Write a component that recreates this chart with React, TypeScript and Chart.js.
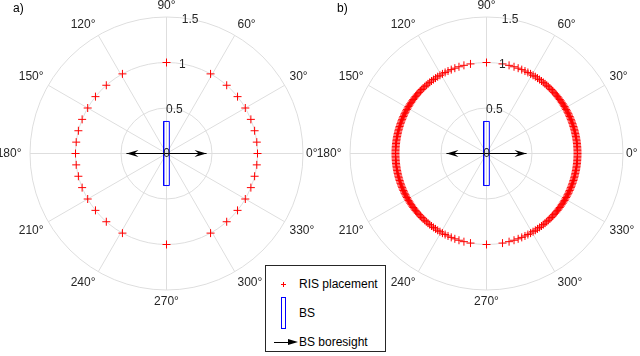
import React, { useEffect, useRef } from "react";
import { Chart, registerables } from "chart.js";

Chart.register(...registerables);

// ---- data ----
const PANEL_LABELS = ["a)", "b)"];
const RADIAL_TICKS = [0, 0.5, 1, 1.5];
const RADIAL_TICK_LABELS = ["0", "0.5", "1", "1.5"];
const R_MAX = 1.5;
const ANGLE_TICKS = [0, 30, 60, 90, 120, 150, 180, 210, 240, 270, 300, 330];
const ANGLE_TICK_LABELS = ["0°", "30°", "60°", "90°", "120°", "150°", "180°", "210°", "240°", "270°", "300°", "330°"];
const RADIAL_LABEL_ANGLE = 80;
const RIS_RADIUS = 1;
// RIS placement angles in one quadrant (degrees), mirrored into the other three
const RIS_QUADRANT_A = [0, 7.18, 14.48, 22.02, 30.0, 38.68, 48.59, 61.04, 90];
const RIS_QUADRANT_B = [
  0, 0.9, 1.79, 2.69, 3.58, 4.48, 5.38, 6.28, 7.18, 8.09, 8.99, 9.9, 10.81, 11.72, 12.64, 13.56,
  14.48, 15.41, 16.34, 17.27, 18.21, 19.16, 20.11, 21.06, 22.02, 22.99, 23.97, 24.95, 25.94, 26.94,
  27.95, 28.97, 30.0, 31.04, 32.09, 33.15, 34.23, 35.32, 36.42, 37.54, 38.68, 39.84, 41.01, 42.21,
  43.43, 44.68, 45.95, 47.26, 48.59, 49.96, 51.38, 52.83, 54.34, 55.91, 57.54, 59.24, 61.05, 62.95,
  64.99, 67.2, 69.64, 72.4, 75.64, 79.86, 90,
];
const BS_RECT_X = [-0.031, 0.031, 0.031, -0.031, -0.031];
const BS_RECT_Y = [-0.352, -0.352, 0.352, 0.352, -0.352];
const BORESIGHT_X = [-0.44, 0.44];
const BORESIGHT_Y = [0, 0];

const FONT = '12px "Liberation Sans", Arial, Helvetica, sans-serif';
const TEXT_COLOR = "#262626";
const GRID_COLOR = "#dedede";

function risPoints(quadrant: number[]) {
  const seen = new Set<string>();
  const pts: { x: number; y: number }[] = [];
  for (const q of quadrant) {
    for (const a of [q, -q, 180 - q, 180 + q]) {
      const n = ((a % 360) + 360) % 360;
      const key = n.toFixed(3);
      if (seen.has(key)) continue;
      seen.add(key);
      const rad = (n * Math.PI) / 180;
      pts.push({ x: RIS_RADIUS * Math.cos(rad), y: RIS_RADIUS * Math.sin(rad) });
    }
  }
  return pts;
}

function makePolarPlugin(panelLabel: string, panelLabelX: number) {
  return {
    id: "polarDecor",
    beforeDatasetsDraw(chart: any) {
      const { ctx, scales } = chart;
      const xs = scales.x;
      const ys = scales.y;
      const cx = xs.getPixelForValue(0);
      const cy = ys.getPixelForValue(0);
      const unit = xs.getPixelForValue(1) - cx;
      ctx.save();
      ctx.strokeStyle = GRID_COLOR;
      ctx.lineWidth = 1;
      for (const a of ANGLE_TICKS) {
        const rad = (a * Math.PI) / 180;
        ctx.beginPath();
        ctx.moveTo(cx, cy);
        ctx.lineTo(cx + R_MAX * unit * Math.cos(rad), cy - R_MAX * unit * Math.sin(rad));
        ctx.stroke();
      }
      for (const r of RADIAL_TICKS) {
        if (r <= 0) continue;
        ctx.beginPath();
        ctx.arc(cx, cy, r * unit, 0, Math.PI * 2);
        ctx.stroke();
      }
      ctx.restore();
    },
    afterDatasetsDraw(chart: any) {
      const { ctx, scales } = chart;
      const xs = scales.x;
      const ys = scales.y;
      const cx = xs.getPixelForValue(0);
      const cy = ys.getPixelForValue(0);
      const unit = xs.getPixelForValue(1) - cx;
      ctx.save();
      // arrowheads at the ends of the boresight dataset
      const meta = chart.getDatasetMeta(0);
      ctx.fillStyle = "#000";
      for (const el of meta.data) {
        const tx = el.x;
        const ty = el.y;
        const dx = tx - cx;
        const dy = ty - cy;
        const len = Math.hypot(dx, dy) || 1;
        const ux = dx / len;
        const uy = dy / len;
        const px = -uy;
        const py = ux;
        const L = 12;
        const W = 3.5;
        ctx.beginPath();
        ctx.moveTo(tx, ty);
        ctx.lineTo(tx - L * ux + W * px, ty - L * uy + W * py);
        ctx.lineTo(tx - 0.65 * L * ux, ty - 0.65 * L * uy);
        ctx.lineTo(tx - L * ux - W * px, ty - L * uy - W * py);
        ctx.closePath();
        ctx.fill();
      }
      // text
      ctx.font = FONT;
      ctx.fillStyle = TEXT_COLOR;
      const R = R_MAX * unit + 5.5;
      ANGLE_TICKS.forEach((a, i) => {
        const rad = (a * Math.PI) / 180;
        const c = Math.cos(rad);
        const s = Math.sin(rad);
        ctx.textAlign = c > 0.1 ? "left" : c < -0.1 ? "right" : "center";
        ctx.textBaseline = s > 0.1 ? "bottom" : s < -0.1 ? "top" : "middle";
        let rr = R;
        if (c > 0.99) rr = R - 2.5;
        if (c < -0.99) rr = R + 3;
        ctx.fillText(ANGLE_TICK_LABELS[i], cx + rr * c, cy - rr * s);
      });
      const lr = (RADIAL_LABEL_ANGLE * Math.PI) / 180;
      ctx.textAlign = "center";
      ctx.textBaseline = "middle";
      RADIAL_TICKS.forEach((r, i) => {
        ctx.fillText(RADIAL_TICK_LABELS[i], cx + r * unit * Math.cos(lr), cy - r * unit * Math.sin(lr) + 0.5);
      });
      ctx.textAlign = "left";
      ctx.fillStyle = "#000";
      ctx.fillText(panelLabel, panelLabelX, 9);
      ctx.restore();
    },
  };
}

function makeChart(
  canvas: HTMLCanvasElement,
  quadrant: number[],
  panelLabel: string,
  labelX: number,
  padLeft: number,
  padRight: number
) {
  const bsData = BS_RECT_X.map((x, i) => ({ x, y: BS_RECT_Y[i] }));
  const boreData = BORESIGHT_X.map((x, i) => ({ x, y: BORESIGHT_Y[i] }));
  return new Chart(canvas, {
    type: "scatter",
    data: {
      datasets: [
        {
          label: "BS boresight",
          data: boreData,
          showLine: true,
          borderColor: "#000",
          borderWidth: 1,
          pointRadius: 0,
          fill: false,
        } as any,
        {
          label: "BS",
          data: bsData,
          showLine: true,
          borderColor: "#0000ff",
          borderWidth: 1,
          pointRadius: 0,
          fill: false,
        } as any,
        {
          label: "RIS placement",
          data: risPoints(quadrant),
          pointStyle: "cross",
          pointRadius: 4,
          borderColor: "#ff0000",
          backgroundColor: "#ff0000",
          borderWidth: 1,
          showLine: false,
        } as any,
      ],
    },
    options: {
      animation: false,
      responsive: false,
      events: [],
      layout: { padding: { left: padLeft, right: padRight, top: 17, bottom: 66 } },
      plugins: { legend: { display: false }, tooltip: { enabled: false } },
      scales: {
        x: { type: "linear", min: -R_MAX, max: R_MAX, display: false },
        y: { type: "linear", min: -R_MAX, max: R_MAX, display: false },
      },
    },
    plugins: [makePolarPlugin(panelLabel, labelX) as any],
  });
}

const legendText: React.CSSProperties = {
  position: "absolute",
  left: 33,
  font: FONT,
  color: "#000",
  lineHeight: "14px",
  whiteSpace: "nowrap",
};

export default function App() {
  const leftRef = useRef<HTMLCanvasElement>(null);
  const rightRef = useRef<HTMLCanvasElement>(null);

  useEffect(() => {
    const a = makeChart(leftRef.current!, RIS_QUADRANT_A, PANEL_LABELS[0], 13, 30, 37);
    const b = makeChart(rightRef.current!, RIS_QUADRANT_B, PANEL_LABELS[1], 37, 50, 17);
    return () => {
      a.destroy();
      b.destroy();
    };
  }, []);

  return (
    <div style={{ position: "fixed", left: 0, top: 0, width: 640, height: 356, background: "#fff", overflow: "hidden" }}>
      <canvas ref={leftRef} width={340} height={356} style={{ position: "absolute", left: 0, top: 0 }} />
      <canvas ref={rightRef} width={340} height={356} style={{ position: "absolute", left: 300, top: 0 }} />
      <div
        style={{
          position: "absolute",
          left: 265,
          top: 265,
          width: 121,
          height: 87,
          border: "1px solid #262626",
          background: "#fff",
          boxSizing: "border-box",
        }}
      >
        {/* RIS marker */}
        <div style={{ position: "absolute", left: 15, top: 18, width: 5, height: 1, background: "#ff0000" }} />
        <div style={{ position: "absolute", left: 17, top: 16, width: 1, height: 5, background: "#ff0000" }} />
        <div style={{ ...legendText, top: 11 }}>RIS placement</div>
        {/* BS rectangle */}
        <div
          style={{
            position: "absolute",
            left: 15,
            top: 31,
            width: 5,
            height: 32,
            border: "1px solid #0000ff",
            boxSizing: "border-box",
          }}
        />
        <div style={{ ...legendText, top: 40 }}>BS</div>
        {/* arrow */}
        <div style={{ position: "absolute", left: 8, top: 76, width: 18, height: 1, background: "#000" }} />
        <div
          style={{
            position: "absolute",
            left: 22,
            top: 73,
            width: 0,
            height: 0,
            borderTop: "3.5px solid transparent",
            borderBottom: "3.5px solid transparent",
            borderLeft: "10px solid #000",
          }}
        />
        <div style={{ ...legendText, top: 69 }}>BS boresight</div>
      </div>
    </div>
  );
}
